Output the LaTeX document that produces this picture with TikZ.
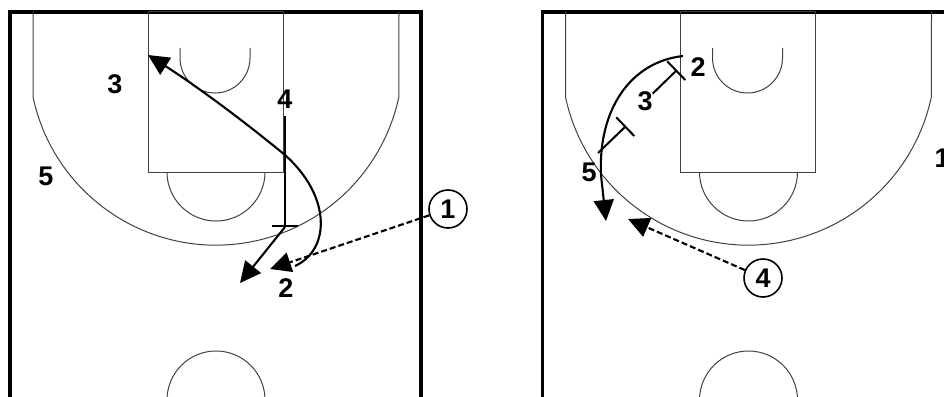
\documentclass[tikz,border=0pt]{standalone}
\usepackage{fontspec}
\setmainfont{Liberation Sans}
\usetikzlibrary{arrows.meta}

\begin{document}
\begin{tikzpicture}[x=1pt, y=-1pt,
    every node/.style={font=\fontsize{27}{27}\selectfont\bfseries},
    court/.style={draw=black!75, line width=1pt},
    border/.style={draw=black, line width=3.5pt},
    player/.style={inner sep=0pt},
    ball/.style={draw, circle, line width=1.6pt, minimum size=38pt, inner sep=0pt},
    cut/.style={-{Triangle[length=21pt, width=20pt]}, line width=2.1pt},
    pass/.style={cut, dash pattern=on 6pt off 3pt},
    screen/.style={-{Bar[width=26pt]}, line width=2pt}]
  \useasboundingbox (0,0) rectangle (944,396);
  \clip (0,0) rectangle (944,396);
  % two half courts
  \foreach \dx in {0, 532.5} {
    \begin{scope}[shift={(\dx,0)}]
      \draw[border] (10,400) -- (10,12) -- (421,12) -- (421,400);
      \draw[court] (33,12) -- (33,97) arc[start angle=168, end angle=12, radius=187] -- (399,12);
      \draw[court] (148,12) rectangle (283,172);
      \draw[court] (180,48) -- (180,58) arc[start angle=180, end angle=0, radius=35] -- (250,48);
      \draw[court] (167,172) arc[start angle=180, end angle=0, radius=49];
      \draw[court] (216,400) circle[radius=49];
    \end{scope}
  }
  % left: players
  \node[player] (l3) at (115,84) {3};
  \node[player] (l4) at (285,99) {4};
  \node[player] (l5) at (46,176) {5};
  \node[player] (l2) at (286,288) {2};
  \node[ball] (l1) at (448,209) {1};
  \coordinate (s4) at (285,227);
  \coordinate (roll) at (240,283);
  \coordinate (c2a) at (295,266);
  \coordinate (c2m) at (285,155);
  \coordinate (c2b) at (148,55);
  \coordinate (pe1) at (270,269);
  \draw[screen, shorten <=8pt] (l4) -- (s4);
  \draw[cut] (s4) -- (roll);
  \draw[cut] (c2a) .. controls (330,250) and (332,197) .. (c2m)
                   .. controls (240,118) and (195,85) .. (c2b);
  \draw[pass] (l1) -- (pe1);
  % right: players
  \node[player] (r2) at (698,67) {2};
  \node[player] (r3) at (645,101) {3};
  \node[player] (r5) at (589,172) {5};
  \node[ball] (r4) at (763,278) {4};
  \node[player] (r1) at (942,158) {1};
  \coordinate (c5a) at (683,56);
  \coordinate (c5m) at (601,175);
  \coordinate (c5b) at (606,221);
  \coordinate (t3) at (677,70);
  \coordinate (s5) at (598,153);
  \coordinate (t5) at (626,126);
  \coordinate (pe4) at (628,219);
  \draw[cut] (c5a) .. controls (630,62) and (598,110) .. (c5m) -- (c5b);
  \draw[screen] (r3) -- (t3);
  \draw[screen] (s5) -- (t5);
  \draw[pass] (r4) -- (pe4);
\end{tikzpicture}
\end{document}
